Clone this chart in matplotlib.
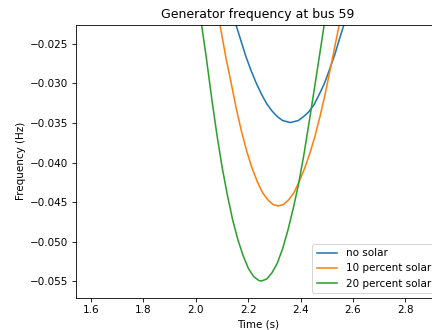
import matplotlib
matplotlib.use("Agg")
import matplotlib.pyplot as plt

# Time (s) and frequency deviation (Hz) for each scenario
t_no_solar = [2.146, 2.153, 2.171, 2.191, 2.211, 2.231, 2.251, 2.271, 2.291, 2.311,
              2.331, 2.361, 2.391, 2.411, 2.431, 2.451, 2.471, 2.491, 2.511, 2.531,
              2.551, 2.5653, 2.572]
f_no_solar = [-0.0215, -0.0226, -0.0245, -0.0266, -0.0284, -0.0300, -0.0314, -0.0326,
              -0.0335, -0.0342, -0.0347, -0.03495, -0.0347, -0.0342, -0.0336, -0.0327,
              -0.0314, -0.0300, -0.0282, -0.0263, -0.0241, -0.0226, -0.0215]

t_10pct = [2.087, 2.092, 2.1145, 2.1345, 2.1545, 2.1745, 2.1945, 2.2145, 2.2345, 2.2545,
           2.2745, 2.2945, 2.3145, 2.3345, 2.3545, 2.3745, 2.3945, 2.4145, 2.4345, 2.4545,
           2.4745, 2.4945, 2.5145, 2.5345, 2.5473, 2.552]
f_10pct = [-0.0215, -0.0226, -0.0267, -0.0299, -0.0332, -0.0361, -0.0386, -0.0407,
           -0.0424, -0.0438, -0.0447, -0.0453, -0.04548, -0.0453, -0.0447, -0.0438,
           -0.0424, -0.0408, -0.0389, -0.0367, -0.0341, -0.0312, -0.0280, -0.0247,
           -0.0226, -0.0215]

t_20pct = [2.016, 2.022, 2.041, 2.061, 2.081, 2.101, 2.121, 2.141, 2.161, 2.181, 2.201,
           2.221, 2.241, 2.251, 2.271, 2.291, 2.311, 2.331, 2.351, 2.371, 2.391, 2.411,
           2.431, 2.451, 2.471, 2.490, 2.495]
f_20pct = [-0.0213, -0.0226, -0.0270, -0.0320, -0.0366, -0.0407, -0.0442, -0.0473,
           -0.0498, -0.0518, -0.0534, -0.0544, -0.0549, -0.05495, -0.0547, -0.0539,
           -0.0527, -0.0509, -0.0486, -0.0459, -0.0429, -0.0393, -0.0352, -0.0310,
           -0.0267, -0.0226, -0.0213]

series_labels = ["no solar", "10 percent solar", "20 percent solar"]

fig = plt.figure(figsize=(432 / 75, 330 / 75), dpi=75)
ax = fig.add_axes([75.7 / 432, 32 / 330, (440.3 - 75.7) / 432, (298 - 24.7) / 330])

ax.plot(t_no_solar, f_no_solar, label=series_labels[0])
ax.plot(t_10pct, f_10pct, label=series_labels[1])
ax.plot(t_20pct, f_20pct, label=series_labels[2])

ax.set_xlim(1.5416, 2.933)
ax.set_ylim(-0.0571, -0.0226)
ax.set_xticks([1.6, 1.8, 2.0, 2.2, 2.4, 2.6, 2.8])
ax.set_yticks([-0.055, -0.050, -0.045, -0.040, -0.035, -0.030, -0.025])

ax.set_title("Generator frequency at bus 59")
ax.set_xlabel("Time (s)")
ax.set_ylabel("Frequency (Hz)")
ax.legend(loc="lower right")

fig.savefig("out.png", dpi=75)
